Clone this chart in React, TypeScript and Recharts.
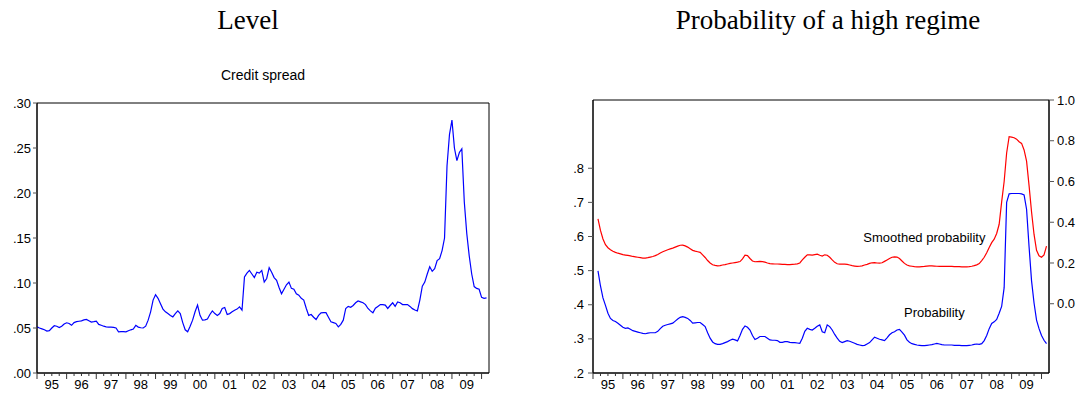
import React from 'react'
import { LineChart, Line, XAxis, YAxis, ReferenceArea, ReferenceDot } from 'recharts'

// monthly observations, 1995M01 .. 2010M03 (month index 0..182)
const yearLabels = ['95', '96', '97', '98', '99', '00', '01', '02', '03', '04', '05', '06', '07', '08', '09']

const creditSpread = [
  0.0513, 0.050, 0.049, 0.048, 0.0465, 0.047, 0.050, 0.0525, 0.052, 0.0506, 0.052, 0.0545,
  0.0558, 0.055, 0.053, 0.056, 0.057, 0.0575, 0.058, 0.059, 0.0595, 0.058, 0.0565, 0.057,
  0.0576, 0.054, 0.053, 0.052, 0.0513, 0.051, 0.051, 0.0506, 0.050, 0.0458, 0.046, 0.046,
  0.0458, 0.047, 0.048, 0.0488, 0.053, 0.051, 0.0503, 0.050, 0.052, 0.0587, 0.068, 0.081,
  0.087, 0.083, 0.077, 0.071, 0.068, 0.066, 0.064, 0.0624, 0.066, 0.069, 0.066, 0.056,
  0.048, 0.0458, 0.052, 0.0587, 0.068, 0.0754, 0.064, 0.0587, 0.059, 0.060, 0.065, 0.069,
  0.066, 0.064, 0.066, 0.0717, 0.0728, 0.065, 0.066, 0.068, 0.0698, 0.071, 0.0735, 0.0698,
  0.1068, 0.111, 0.114, 0.110, 0.106, 0.112, 0.111, 0.114, 0.101, 0.105, 0.117, 0.112,
  0.106, 0.103, 0.095, 0.088, 0.093, 0.098, 0.101, 0.094, 0.093, 0.088, 0.0864, 0.083,
  0.081, 0.072, 0.064, 0.065, 0.062, 0.0595, 0.064, 0.0669, 0.067, 0.067, 0.062, 0.057,
  0.056, 0.055, 0.0513, 0.054, 0.0587, 0.0717, 0.074, 0.073, 0.075, 0.078, 0.080, 0.079,
  0.078, 0.076, 0.0717, 0.069, 0.0669, 0.072, 0.074, 0.076, 0.076, 0.0755, 0.0717, 0.075,
  0.078, 0.074, 0.079, 0.078, 0.076, 0.076, 0.076, 0.074, 0.0715, 0.070, 0.069, 0.081,
  0.0964, 0.101, 0.110, 0.118, 0.113, 0.116, 0.125, 0.127, 0.136, 0.15, 0.23, 0.265,
  0.281, 0.25, 0.236, 0.245, 0.249, 0.19, 0.155, 0.13, 0.11, 0.096, 0.094, 0.093,
  0.084, 0.083, 0.0835,
]

const probability = [
  null, null, 0.499, 0.455, 0.42, 0.398, 0.375, 0.36, 0.354, 0.351, 0.346, 0.34,
  0.334, 0.331, 0.332, 0.328, 0.324, 0.322, 0.32, 0.318, 0.316, 0.315, 0.317, 0.318,
  0.318, 0.318, 0.322, 0.33, 0.337, 0.34, 0.342, 0.344, 0.346, 0.352, 0.358, 0.363,
  0.365, 0.363, 0.36, 0.354, 0.346, 0.347, 0.348, 0.348, 0.342, 0.336, 0.318, 0.302,
  0.291, 0.286, 0.284, 0.284, 0.286, 0.289, 0.292, 0.296, 0.299, 0.297, 0.294, 0.31,
  0.328, 0.338, 0.334, 0.326, 0.31, 0.298, 0.302, 0.307, 0.307, 0.307, 0.302, 0.297,
  0.296, 0.296, 0.295, 0.29, 0.29, 0.292, 0.292, 0.29, 0.289, 0.289, 0.288, 0.287,
  0.302, 0.322, 0.331, 0.328, 0.326, 0.331, 0.337, 0.341, 0.321, 0.318, 0.341, 0.336,
  0.326, 0.313, 0.302, 0.293, 0.289, 0.292, 0.295, 0.293, 0.29, 0.287, 0.284, 0.282,
  0.28, 0.281, 0.285, 0.289, 0.297, 0.305, 0.302, 0.299, 0.297, 0.295, 0.303, 0.312,
  0.318, 0.321, 0.326, 0.328, 0.32, 0.311, 0.297, 0.29, 0.286, 0.284, 0.282, 0.281,
  0.28, 0.28, 0.281, 0.282, 0.283, 0.285, 0.287, 0.285, 0.283, 0.282, 0.282, 0.282,
  0.282, 0.281, 0.281, 0.281, 0.28, 0.28, 0.28, 0.281, 0.282, 0.284, 0.285, 0.284,
  0.286, 0.295, 0.31, 0.33, 0.345, 0.35, 0.357, 0.375, 0.395, 0.45, 0.70, 0.725,
  0.726, 0.726, 0.726, 0.726, 0.725, 0.722, 0.68, 0.57, 0.47, 0.405, 0.355, 0.33,
  0.31, 0.296, 0.286,
]

const smoothedProbability = [
  null, null, 0.416, 0.36, 0.318, 0.29, 0.275, 0.265, 0.258, 0.252, 0.248, 0.245,
  0.241, 0.239, 0.237, 0.235, 0.232, 0.23, 0.228, 0.226, 0.224, 0.224, 0.226, 0.229,
  0.232, 0.236, 0.242, 0.249, 0.255, 0.26, 0.265, 0.269, 0.273, 0.278, 0.283, 0.287,
  0.288, 0.284, 0.278, 0.27, 0.262, 0.258, 0.255, 0.252, 0.24, 0.227, 0.212, 0.2,
  0.191, 0.188, 0.186, 0.187, 0.19, 0.192, 0.195, 0.198, 0.2, 0.202, 0.204, 0.207,
  0.22, 0.238, 0.236, 0.222, 0.21, 0.206, 0.207, 0.208, 0.207, 0.204, 0.2, 0.197,
  0.196, 0.195, 0.195, 0.194, 0.193, 0.193, 0.192, 0.192, 0.193, 0.194, 0.196, 0.2,
  0.215, 0.228, 0.24, 0.24, 0.239, 0.241, 0.243, 0.238, 0.234, 0.24, 0.238, 0.228,
  0.215, 0.203, 0.196, 0.194, 0.194, 0.194, 0.193, 0.19, 0.187, 0.185, 0.183, 0.184,
  0.186, 0.19, 0.193, 0.198, 0.201, 0.202, 0.2, 0.199, 0.201, 0.208, 0.215, 0.222,
  0.228, 0.23, 0.229, 0.222, 0.21, 0.198, 0.19, 0.186, 0.184, 0.182, 0.181, 0.181,
  0.182, 0.183, 0.185, 0.186, 0.186, 0.185, 0.184, 0.183, 0.183, 0.183, 0.183, 0.183,
  0.183, 0.182, 0.182, 0.182, 0.181, 0.181, 0.181, 0.182, 0.184, 0.187, 0.191, 0.197,
  0.212, 0.228, 0.25, 0.276, 0.3, 0.317, 0.345, 0.39, 0.5, 0.6, 0.74, 0.82,
  0.818, 0.815, 0.808, 0.795, 0.787, 0.755, 0.7, 0.58, 0.45, 0.34, 0.262, 0.235,
  0.228, 0.24, 0.283,
]

const spreadTicks = [0, 0.05, 0.1, 0.15, 0.2, 0.25, 0.3]
const probLeftTicks = [0.2, 0.3, 0.4, 0.5, 0.6, 0.7, 0.8]
const probRightTicks = [0, 0.2, 0.4, 0.6, 0.8, 1.0]
const quarterTicks = Array.from({ length: 61 }, (_, i) => i * 3)

const data = creditSpread.map((v, i) => ({
  m: i,
  spread: v,
  prob: probability[i],
  smooth: smoothedProbability[i],
}))

const FONT = '"Liberation Sans", Arial, sans-serif'
const SERIF = '"Liberation Serif", "Times New Roman", serif'
const tickStyle = { fontSize: 13, fill: '#000', fontFamily: FONT }

function YearTick({ x, y, payload }: { x?: number; y?: number; payload?: { value: number } }) {
  const v = payload!.value
  const major = v % 12 === 0
  const label = v % 12 === 6 ? yearLabels[(v - 6) / 12] : null
  return (
    <g>
      <line x1={x} x2={x} y1={y} y2={y! + (major ? 6 : 3)} stroke="#333" />
      {label && (
        <text x={x} y={y! + 16} textAnchor="middle" {...tickStyle}>
          {label}
        </text>
      )}
    </g>
  )
}

const noLead = (d: number) => (v: number) => v.toFixed(d).replace(/^0/, '')

export default function App() {
  return (
    <div style={{ position: 'absolute', left: 0, top: 0, width: 1081, height: 395, background: '#fff' }}>
      <svg width={1081} height={395} style={{ position: 'absolute', left: 0, top: 0 }}>
        <text x={248} y={29} textAnchor="middle" fontSize={27} fontFamily={SERIF}>
          Level
        </text>
        <text x={828} y={29} textAnchor="middle" fontSize={27} fontFamily={SERIF}>
          Probability of a high regime
        </text>
        <text x={263} y={80} textAnchor="middle" fontSize={14} fontFamily={FONT}>
          Credit spread
        </text>
      </svg>

      <div style={{ position: 'absolute', left: 0, top: 0 }}>
        <LineChart width={540} height={395} data={data} margin={{ top: 103, right: 51, bottom: 0, left: 0 }}>
          <XAxis
            dataKey="m"
            type="number"
            domain={[0, 183]}
            allowDataOverflow
            ticks={quarterTicks}
            interval={0}
            tick={<YearTick />}
            tickLine={false}
            tickSize={0}
            tickMargin={0}
            height={22}
            axisLine={{ stroke: '#000' }}
          />
          <YAxis
            domain={[0, 0.3]}
            allowDataOverflow
            ticks={spreadTicks}
            interval={0}
            tickFormatter={noLead(2)}
            tick={tickStyle}
            tickSize={4}
            tickMargin={2}
            tickLine={{ stroke: '#555' }}
            axisLine={{ stroke: '#000' }}
            width={37}
          />
          <ReferenceArea x1={0} x2={183} y1={0} y2={0.3} fill="none" stroke="#000" strokeWidth={1} />
          <Line dataKey="spread" stroke="#0000ff" strokeWidth={1.2} dot={false} isAnimationActive={false} />
        </LineChart>
      </div>

      <div style={{ position: 'absolute', left: 540, top: 0 }}>
        <LineChart width={541} height={395} data={data} margin={{ top: 100, right: 0, bottom: 0, left: 0 }}>
          <XAxis
            dataKey="m"
            type="number"
            domain={[0, 183]}
            allowDataOverflow
            ticks={quarterTicks}
            interval={0}
            tick={<YearTick />}
            tickLine={false}
            tickSize={0}
            tickMargin={0}
            height={22}
            axisLine={{ stroke: '#000' }}
          />
          <YAxis
            yAxisId="left"
            domain={[0.2, 1.0]}
            allowDataOverflow
            ticks={probLeftTicks}
            interval={0}
            tickFormatter={noLead(1)}
            tick={tickStyle}
            tickSize={5}
            tickMargin={4}
            tickLine={{ stroke: '#555' }}
            axisLine={{ stroke: '#000' }}
            width={53}
          />
          <YAxis
            yAxisId="right"
            orientation="right"
            domain={[-0.34, 1.0]}
            allowDataOverflow
            ticks={probRightTicks}
            interval={0}
            tickFormatter={(v: number) => v.toFixed(1)}
            tick={tickStyle}
            tickSize={5}
            tickMargin={3}
            tickLine={{ stroke: '#555' }}
            axisLine={{ stroke: '#000' }}
            width={32}
          />
          <ReferenceArea yAxisId="left" x1={0} x2={183} y1={0.2} y2={1.0} fill="none" stroke="#000" strokeWidth={1} />
          <Line yAxisId="left" dataKey="prob" stroke="#0000ff" strokeWidth={1.2} dot={false} isAnimationActive={false} />
          <Line yAxisId="right" dataKey="smooth" stroke="#ff0000" strokeWidth={1.2} dot={false} isAnimationActive={false} />
          <ReferenceDot
            yAxisId="left"
            x={133}
            y={0.597}
            r={0}
            fill="none"
            stroke="none"
            label={{ value: 'Smoothed probability', position: 'center', fontSize: 13, fill: '#000', fontFamily: FONT }}
          />
          <ReferenceDot
            yAxisId="left"
            x={137}
            y={0.377}
            r={0}
            fill="none"
            stroke="none"
            label={{ value: 'Probability', position: 'center', fontSize: 13, fill: '#000', fontFamily: FONT }}
          />
        </LineChart>
      </div>
    </div>
  )
}
